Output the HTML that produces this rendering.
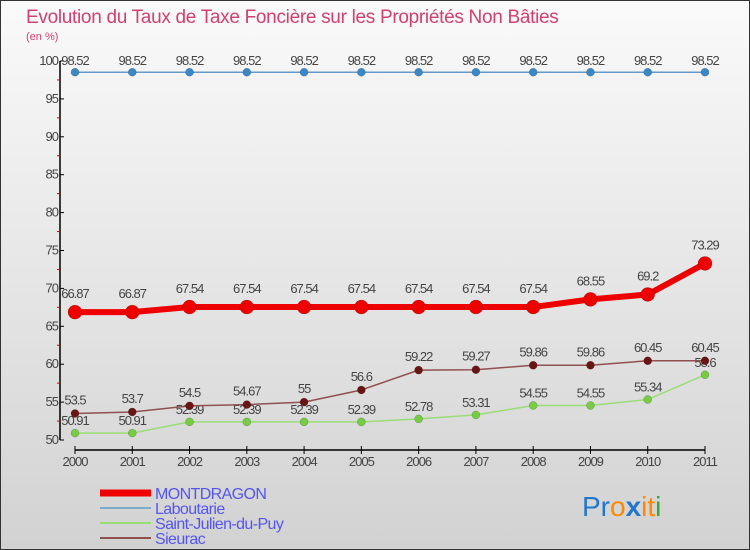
<!DOCTYPE html>
<html><head><meta charset="utf-8"><style>
body{margin:0}
#c{width:750px;height:550px;position:relative;box-sizing:border-box;border:1px solid #333;background:linear-gradient(#fafafa,#d2d2d2);font-family:"Liberation Sans",sans-serif;overflow:hidden}
text{font-family:"Liberation Sans",sans-serif}
</style></head><body>
<div id="c">
<svg id="s" width="748" height="548" viewBox="1 1 748 548" xmlns="http://www.w3.org/2000/svg">
<text x="26" y="23" font-size="19" fill="#d04070" letter-spacing="-0.3">Evolution du Taux de Taxe Foncière sur les Propriétés Non Bâties</text>
<text x="26" y="40" font-size="11" fill="#d04070">(en %)</text>
<g id="axes"></g><g id="series"></g>
<g>
<line x1="100" y1="493" x2="151" y2="493" stroke="#ee0000" stroke-width="7"/>
<text x="155" y="499" font-size="16" fill="#5555ee" letter-spacing="-0.6">MONTDRAGON</text>
<line x1="100" y1="508" x2="151" y2="508" stroke="#7aaacc" stroke-width="2"/>
<text x="155" y="514" font-size="16" fill="#5555ee" letter-spacing="-0.6">Laboutarie</text>
<line x1="100" y1="523" x2="151" y2="523" stroke="#99dd77" stroke-width="2"/>
<text x="155" y="529" font-size="16" fill="#5555ee" letter-spacing="-0.6">Saint-Julien-du-Puy</text>
<line x1="100" y1="538" x2="151" y2="538" stroke="#905050" stroke-width="2"/>
<text x="155" y="544" font-size="16" fill="#5555ee" letter-spacing="-0.6">Sieurac</text>
</g>
<text x="582" y="516" font-size="28"><tspan fill="#2277cc">Pr</tspan><tspan fill="#ff8800">o</tspan><tspan fill="#2277cc" font-weight="bold">x</tspan><tspan fill="#ff8800">it</tspan><tspan fill="#33aa33">i</tspan></text>
</svg></div>
<script>
const years=[2000,2001,2002,2003,2004,2005,2006,2007,2008,2009,2010,2011];
const yTicks=[50,55,60,65,70,75,80,85,90,95,100];
const montdragon=[66.87,66.87,67.54,67.54,67.54,67.54,67.54,67.54,67.54,68.55,69.2,73.29];
const laboutarie=[98.52,98.52,98.52,98.52,98.52,98.52,98.52,98.52,98.52,98.52,98.52,98.52];
const saintJulien=[50.91,50.91,52.39,52.39,52.39,52.39,52.78,53.31,54.55,54.55,55.34,58.6];
const sieurac=[53.5,53.7,54.5,54.67,55,56.6,59.22,59.27,59.86,59.86,60.45,60.45];
const NS="http://www.w3.org/2000/svg";
const X=i=>75+i*(630/(years.length-1));
const Y=v=>440-(v-50)*(379/50);
function mk(t,a,p){const e=document.createElementNS(NS,t);for(const k in a)e.setAttribute(k,a[k]);p.appendChild(e);return e;}
const ax=document.getElementById('axes');
let e=mk('line',{x1:60,y1:Y(100),x2:60,y2:Y(50),stroke:'#000','stroke-width':1.5},ax);

e=mk('line',{x1:X(0),y1:450,x2:X(years.length-1),y2:450,stroke:'#000','stroke-width':1.5},ax);

yTicks.forEach(v=>{
 e=mk('line',{x1:60,y1:Y(v),x2:64,y2:Y(v),stroke:'#000'},ax);
 
 if(v<100){e=mk('line',{x1:57,y1:Y(v+2.5),x2:60,y2:Y(v+2.5),stroke:'#d00'},ax);
 }
 e=mk('text',{x:58,y:Y(v)+4,'font-size':13,fill:'#444','text-anchor':'end','letter-spacing':'-1'},ax);e.textContent=v;
 
});
years.forEach((yr,i)=>{
 e=mk('line',{x1:X(i),y1:446,x2:X(i),y2:454,stroke:'#000'},ax);
 
 e=mk('text',{x:X(i),y:466,'font-size':13,fill:'#444','text-anchor':'middle','letter-spacing':'-1'},ax);e.textContent=yr;
 
});
const sg=document.getElementById('series');
function draw(vals,name,color,lw,r,dot,lo){
 const g=mk('g',{},sg);
 
 e=mk('polyline',{points:vals.map((v,i)=>X(i)+','+Y(v)).join(' '),fill:'none',stroke:color,'stroke-width':lw,'stroke-linejoin':'round'},g);
 
 vals.forEach((v,i)=>{
  e=mk('circle',{cx:X(i),cy:Y(v),r:r,fill:dot,stroke:'rgba(0,0,0,0.3)','stroke-width':0.5},g);
  
  e=mk('text',{x:X(i),y:Y(v)-lo,'font-size':13,fill:'#444','text-anchor':'middle','letter-spacing':'-1'},g);e.textContent=v;
  
 });
}
draw(laboutarie,'laboutarie','#6699cc',1.5,4,'#3a88c8',7);
draw(saintJulien,'saint-julien','#99dd77',1.5,4,'#77cc44',8);
draw(sieurac,'sieurac','#905050',1.5,4,'#6a1515',9);
draw(montdragon,'montdragon','#ee0000',6,7,'#ee0000',14);
</script>
</body></html>
